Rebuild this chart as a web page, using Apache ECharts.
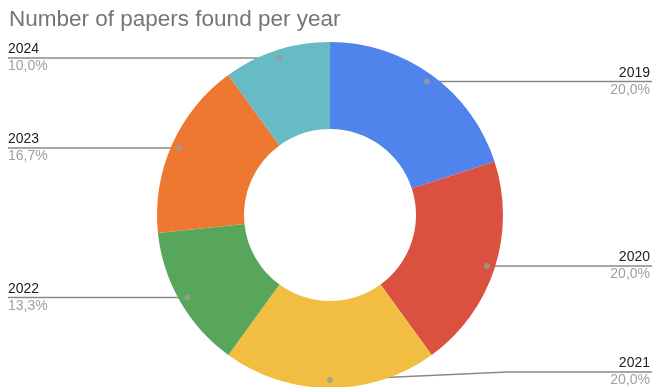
<!DOCTYPE html>
<html>
<head>
<meta charset="utf-8">
<script src="https://cdn.jsdelivr.net/npm/echarts@6/dist/echarts.min.js"></script>
<style>html,body{margin:0;padding:0;background:#fff}#c{width:652px;height:387px}</style>
</head>
<body>
<div id="c"></div>
<script>
const years = ['2019', '2020', '2021', '2022', '2023', '2024'];
const papers = [6, 6, 6, 4, 5, 3];
const colors = ['#5083EC', '#DA5140', '#F2BE41', '#58A65C', '#EE7732', '#66BBC4'];
const titleText = 'Number of papers found per year';

const W = 652, H = 387;
const CX = 330, CY = 215, R_IN = 86, R_OUT = 173, R_DOT = 165;
const total = papers.reduce((a, b) => a + b, 0);
const mids = [];
let cum = 0;
papers.forEach(v => { mids.push(cum + v / 2); cum += v; });
const pct = v => (v / total * 100).toFixed(1).replace('.', ',') + '%';

const data = years.map((y, i) => ({ name: y, value: papers[i] }));

const chart = echarts.init(document.getElementById('c'), null, { renderer: 'canvas' });
chart.setOption({
  animation: false,
  backgroundColor: '#fff',
  title: {
    text: titleText, left: 4, top: 3,
    textStyle: { fontFamily: 'Liberation Sans, Arial', fontSize: 22.5, fontWeight: 'normal', color: '#757575' }
  },
  polar: { center: [CX, CY], radius: R_DOT },
  angleAxis: { type: 'value', min: 0, max: total, startAngle: 90, clockwise: true, show: false },
  radiusAxis: { type: 'value', min: 0, max: 1, show: false },
  series: [
    {
      type: 'pie', center: [CX, CY], radius: [R_IN, R_OUT], startAngle: 90, clockwise: true,
      data: data, color: colors, label: { show: false }, labelLine: { show: false },
      itemStyle: { borderWidth: 0 }, emphasis: { disabled: true }, silent: true
    },
    {
      type: 'pie', center: [CX, CY], radius: [0, R_DOT], startAngle: 90, clockwise: true,
      data: data, silent: true, emphasis: { disabled: true },
      itemStyle: { color: 'rgba(0,0,0,0)', borderWidth: 0 },
      label: {
        show: true, position: 'outside',
        formatter: p => '{y|' + p.name + '}\n{p|' + pct(p.value) + '}',
        rich: {
          y: { fontFamily: 'Liberation Sans, Arial', fontSize: 14, color: '#222', lineHeight: 17 },
          p: { fontFamily: 'Liberation Sans, Arial', fontSize: 14, color: '#a0a0a0', lineHeight: 17 }
        }
      },
      labelLine: { show: true, length: 0, length2: 10, lineStyle: { color: '#8a8a8a', width: 1.5 } },
      labelLayout: function (params) {
        const i = params.dataIndex;
        const a = mids[i] / total * Math.PI * 2;
        const x = CX + R_DOT * Math.sin(a);
        const y = CY - R_DOT * Math.cos(a);
        const right = Math.sin(a) > -1e-6;
        const edge = right ? W : 8;
        const lineY = Math.min(y, H - 15);
        const bendX = lineY < y ? x + (edge - x) * 0.55 : x;
        return {
          x: right ? W - 2 : 8,
          y: lineY,
          align: right ? 'right' : 'left',
          verticalAlign: 'middle',
          labelLinePoints: [[x, y], [bendX, lineY], [edge, lineY]]
        };
      }
    },
    {
      type: 'scatter', coordinateSystem: 'polar', silent: true,
      data: mids.map(m => [1, m]), symbolSize: 6,
      itemStyle: { color: '#9a9a9a' }, z: 10
    }
  ]
});
</script>
</body>
</html>
